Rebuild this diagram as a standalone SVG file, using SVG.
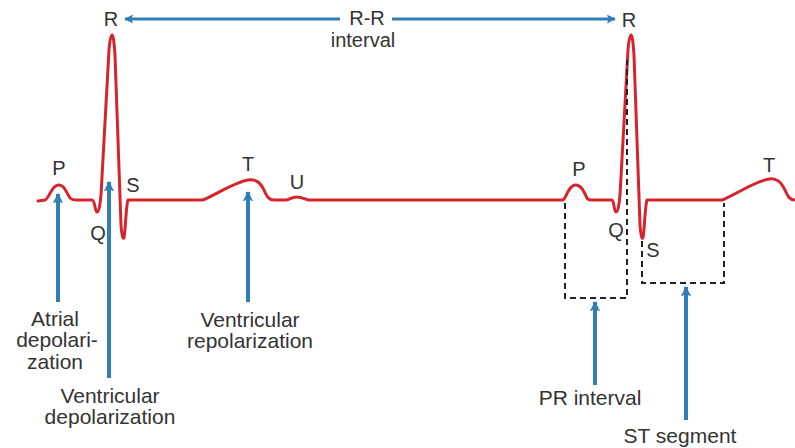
<svg xmlns="http://www.w3.org/2000/svg" width="795" height="448" viewBox="0 0 795 448">
<defs>
<marker id="ah" viewBox="0 0 10 10" refX="9" refY="5" markerWidth="2.6" markerHeight="2.6" orient="auto" markerUnits="strokeWidth">
<path d="M0,0 L10,5 L0,10 L2,5 Z" fill="#2f7fb6"/>
</marker>
<marker id="ah2" viewBox="0 0 10 10" refX="9" refY="5" markerWidth="3.6" markerHeight="3" orient="auto" markerUnits="strokeWidth">
<path d="M0,0 L10,5 L0,10 L2,5 Z" fill="#2f7fb6"/>
</marker>
</defs>
<style>
.ecg{fill:none;stroke:#d7232b;stroke-width:3;stroke-linejoin:round;stroke-linecap:round}
.arr{fill:none;stroke:#2f7fb6;stroke-width:4;marker-end:url(#ah)}
.rr{fill:none;stroke:#2f7fb6;stroke-width:3;marker-end:url(#ah2)}
.box{fill:none;stroke:#222;stroke-width:2;stroke-dasharray:6 4}
text{font-family:"Liberation Sans",Arial,sans-serif;fill:#333;text-anchor:middle}
.w{font-size:20px}
.lb{font-size:21px}
</style>
<rect width="795" height="448" fill="#fff"/>
<g id="ecg-trace">
<path class="ecg" d="M38,201 L45,200 C49,199 51,186 58,185 C64,184 66,192 70,198 C72,200 74,200 76,200 L92,200 C95,200 95,212 97,212 C99,212 100,205 101,195 L109,50 C110,38 111,35 112,35 C113,35 114,40 115,55 L121,225 C122,237 123,239 124,238 C125,237 126,205 128,200 L203,200 C215,195 235,182 248,180 C256,179 260,182 264,190 C267,197 269,200 274,200 L286,200 C289,200 291,197 297,197 C303,197 305,200 309,200 L563,200 C566,199 568,186 575,185 C581,184 584,192 587,198 C588,200 590,200 592,200 L612,200 C614,200 614,212 616,212 C618,212 619,205 620,195 L628,50 C629,38 630,35 631,35 C632,35 633,40 634,55 L640,225 C641,237 642,239 643,238 C644,237 645,205 647,200 L722,200 C735,195 755,181 769,179 C777,178 781,182 785,190 C788,197 790,200 795,200"/>
</g>
<g id="wave-labels">
<text class="w" x="59" y="175">P</text>
<text class="w" x="98" y="240">Q</text>
<text class="w" x="111" y="26">R</text>
<text class="w" x="133" y="192">S</text>
<text class="w" x="248" y="171">T</text>
<text class="w" x="297" y="189">U</text>
<text class="w" x="579" y="176">P</text>
<text class="w" x="616" y="237">Q</text>
<text class="w" x="629" y="27">R</text>
<text class="w" x="653" y="257">S</text>
<text class="w" x="769" y="172">T</text>
</g>
<g id="pr-interval-box">
<path class="box" d="M565,203 L565,298 L627,298 L627,60"/>
</g>
<g id="st-segment-box">
<path class="box" d="M642,241 L642,283 L724,283 L724,203"/>
</g>
<g id="rr-interval">
<text class="w" x="367" y="25">R-R</text>
<text class="w" x="363" y="47">interval</text>
</g>
<g id="connectors">
<line class="rr" x1="340" y1="19" x2="125" y2="19"/>
<line class="rr" x1="392" y1="19" x2="615" y2="19"/>
<line class="arr" x1="58" y1="302" x2="58" y2="194"/>
<line class="arr" x1="109" y1="378" x2="109" y2="182"/>
<line class="arr" x1="248" y1="302" x2="248" y2="192"/>
<line class="arr" x1="595" y1="385" x2="595" y2="302"/>
<line class="arr" x1="686" y1="420" x2="686" y2="287"/>
</g>
<g id="atrial-depolarization">
<text class="lb" x="55" y="326">Atrial</text>
<text class="lb" x="57" y="347">depolari-</text>
<text class="lb" x="55" y="369">zation</text>
</g>
<g id="ventricular-depolarization">
<text class="lb" x="110" y="403">Ventricular</text>
<text class="lb" x="110" y="424">depolarization</text>
</g>
<g id="ventricular-repolarization">
<text class="lb" x="250" y="327">Ventricular</text>
<text class="lb" x="250" y="348">repolarization</text>
</g>
<g id="pr-interval">
<text class="lb" x="590" y="405">PR interval</text>
</g>
<g id="st-segment">
<text class="lb" x="680" y="443">ST segment</text>
</g>
</svg>
